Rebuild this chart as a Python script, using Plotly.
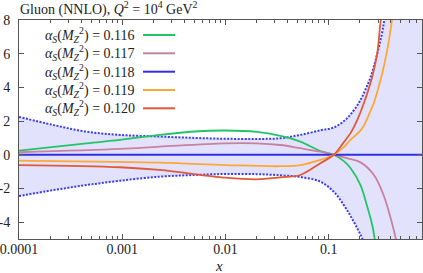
import plotly.graph_objects as go

# ---------------- data ----------------
XB = [1e-4, 2.14e-4, 4.5e-4, 9.5e-4, 2.3e-3, 5e-3, 1e-2, 2e-2, 3.4e-2, 5.3e-2,
      8.3e-2, 0.112, 0.14, 0.163, 0.19, 0.211, 0.235, 0.254, 0.275, 0.295,
      0.33, 0.345, 0.4, 0.5, 0.8]
UPPER = [2.25, 1.77, 1.37, 1.18, 1.08, 1.0, 0.95, 0.94, 0.98, 1.18,
         1.45, 1.62, 2.0, 2.4, 2.95, 3.45, 4.1, 4.6, 5.3, 6.0,
         7.3, 8.0, 10.5, 16.0, 40.0]
LOWER = [-2.45, -2.1, -1.8, -1.54, -1.30, -1.2, -1.14, -1.15, -1.22, -1.32,
         -1.6, -2.2, -2.99, -3.65, -4.4, -4.97, -5.8, -6.5, -7.3, -8.0,
         -9.5, -10.5, -13.0, -20.0, -40.0]

X116 = [1e-4, 4.5e-4, 9.5e-4, 2.3e-3, 5e-3, 1e-2, 2e-2, 3.4e-2, 5.3e-2, 8.3e-2,
        0.112, 0.14, 0.163, 0.203, 0.234, 0.264, 0.28, 0.32]
Y116 = [0.24, 0.68, 0.88, 1.18, 1.38, 1.44, 1.36, 1.12, 0.78, 0.22,
        0.0, -0.38, -0.8, -1.8, -3.0, -4.18, -5.07, -7.5]

X117 = [1e-4, 9.5e-4, 2.3e-3, 1e-2, 2e-2, 3.4e-2, 5.3e-2, 8.3e-2, 0.112, 0.15,
        0.203, 0.274, 0.339, 0.39, 0.445, 0.5]
Y117 = [0.15, 0.35, 0.48, 0.68, 0.68, 0.58, 0.39, 0.18, 0.0, -0.2,
        -0.45, -1.2, -2.39, -3.58, -4.97, -7.0]

X118 = [1e-4, 0.8]
Y118 = [0.0, 0.0]

X119 = [1e-4, 2.3e-3, 1e-2, 3.4e-2, 5.3e-2, 8.3e-2, 0.112, 0.14, 0.163, 0.19,
        0.215, 0.25, 0.273, 0.33, 0.374, 0.41, 0.45]
Y119 = [-0.35, -0.47, -0.61, -0.68, -0.61, -0.3, 0.0, 0.45, 0.9, 1.25,
        1.65, 2.5, 3.07, 4.85, 6.43, 8.0, 9.5]

X120 = [1e-4, 9.5e-4, 2.3e-3, 1e-2, 2e-2, 3.4e-2, 5.3e-2, 8.3e-2, 0.112, 0.14,
        0.163, 0.19, 0.219, 0.264, 0.295, 0.32, 0.36]
Y120 = [-0.61, -0.74, -0.9, -1.36, -1.46, -1.34, -1.2, -0.5, 0.0, 0.75,
        1.3, 2.1, 3.07, 4.65, 6.04, 8.0, 9.5]

SERIES = [
    ("0.116", X116, Y116, "#22c466"),
    ("0.117", X117, Y117, "#c8819f"),
    ("0.118", X118, Y118, "#2f2fe6"),
    ("0.119", X119, Y119, "#ffa733"),
    ("0.120", X120, Y120, "#e05a38"),
]

XTICKS = [1e-4, 1e-3, 1e-2, 1e-1]
XTICKTEXT = ["0.0001", "0.001", "0.01", "0.1"]
YTICKS = [-4, -2, 0, 2, 4, 6, 8]
YTICKTEXT = ["-4", "-2", "0", "2", "4", "6", "8"]
YRANGE = [-5, 8]

FONT = "'Liberation Serif', 'Times New Roman', Times, 'DejaVu Serif', serif"
BAND = "#e2e2fd"
BOUND = "#3a3af5"
AX = "#555555"
TXT = "#222222"

fig = go.Figure()

# band
fig.add_trace(go.Scatter(x=XB, y=LOWER, mode="lines", line=dict(width=0),
                         line_shape="spline", showlegend=False, hoverinfo="skip"))
fig.add_trace(go.Scatter(x=XB, y=UPPER, mode="lines", line=dict(width=0),
                         line_shape="spline", fill="tonexty", fillcolor=BAND,
                         showlegend=False, hoverinfo="skip"))
# bounds
for yb in (UPPER, LOWER):
    fig.add_trace(go.Scatter(x=XB, y=yb, mode="lines", line_shape="spline",
                             line=dict(color=BOUND, width=2, dash="2px,1.5px"),
                             showlegend=False))

for name, xs, ys, col in SERIES:
    fig.add_trace(go.Scatter(x=xs, y=ys, mode="lines", line_shape="spline",
                             line=dict(color=col, width=1.8), showlegend=False))

# manual legend (text left of line sample)
L, R, T, B = 19, 1, 20, 34
W, H = 423 - L - R, 273 - T - B
leg_y = [35, 53.3, 71.7, 90, 108.3]
for (name, xs, ys, col), py in zip(SERIES, leg_y):
    yp = (273 - B - py) / H
    fig.add_annotation(
        x=(137 - L) / W, y=yp, xref="paper", yref="paper",
        xanchor="right", yanchor="middle", showarrow=False,
        text="<i>α</i><sub><i>S</i></sub>(<i>M</i><sub><i>Z</i></sub><sup>2</sup>) = " + name,
        font=dict(family=FONT, size=14, color=TXT))
    fig.add_shape(type="line", xref="paper", yref="paper",
                  x0=(143 - L) / W, x1=(175 - L) / W, y0=yp, y1=yp,
                  line=dict(color=col, width=2))

fig.add_annotation(
    x=(18 - L) / W, y=(273 - B - 9) / H, xref="paper", yref="paper",
    xanchor="left", yanchor="middle", showarrow=False,
    text="Gluon (NNLO), <i>Q</i><sup>2</sup> = 10<sup>4</sup> GeV<sup>2</sup>",
    font=dict(family=FONT, size=14, color=TXT))

# x axis title
fig.add_annotation(
    x=(219 - L) / W, y=(273 - B - 266) / H, xref="paper", yref="paper",
    xanchor="center", yanchor="middle", showarrow=False,
    text="<i>x</i>", font=dict(family=FONT, size=15, color=TXT))

minor_vals = [m * 10 ** e for e in range(-4, 0) for m in range(2, 10)]

fig.update_layout(
    width=423, height=273,
    margin=dict(l=L, r=R, t=T, b=B, pad=0, autoexpand=False),
    paper_bgcolor="white", plot_bgcolor="white",
    font=dict(family=FONT, size=14, color=TXT),
    showlegend=False,
    xaxis=dict(type="log", range=[-4, -0.09691], tickvals=XTICKS, ticktext=XTICKTEXT,
               ticks="inside", ticklen=5, tickcolor=AX, showline=True, linecolor=AX,
               linewidth=1, mirror="ticks", showgrid=False, zeroline=False,
               minor=dict(tickvals=minor_vals, ticks="inside", ticklen=3, tickcolor=AX,
                          showgrid=False),
               automargin=False, ticklabelstandoff=-3, ticklabeloverflow="allow",
               tickfont=dict(family=FONT, size=14, color=TXT)),
    yaxis=dict(range=YRANGE, tickvals=YTICKS, ticktext=YTICKTEXT,
               ticks="inside", ticklen=5, tickcolor=AX, showline=True, linecolor=AX,
               linewidth=1, mirror="ticks", showgrid=False, zeroline=False,
               automargin=False, ticklabelstandoff=5, ticklabeloverflow="allow",
               tickfont=dict(family=FONT, size=14, color=TXT)),
)

fig.write_html("out.html", config={"displayModeBar": False},
               post_script="document.body.style.margin='0';")
